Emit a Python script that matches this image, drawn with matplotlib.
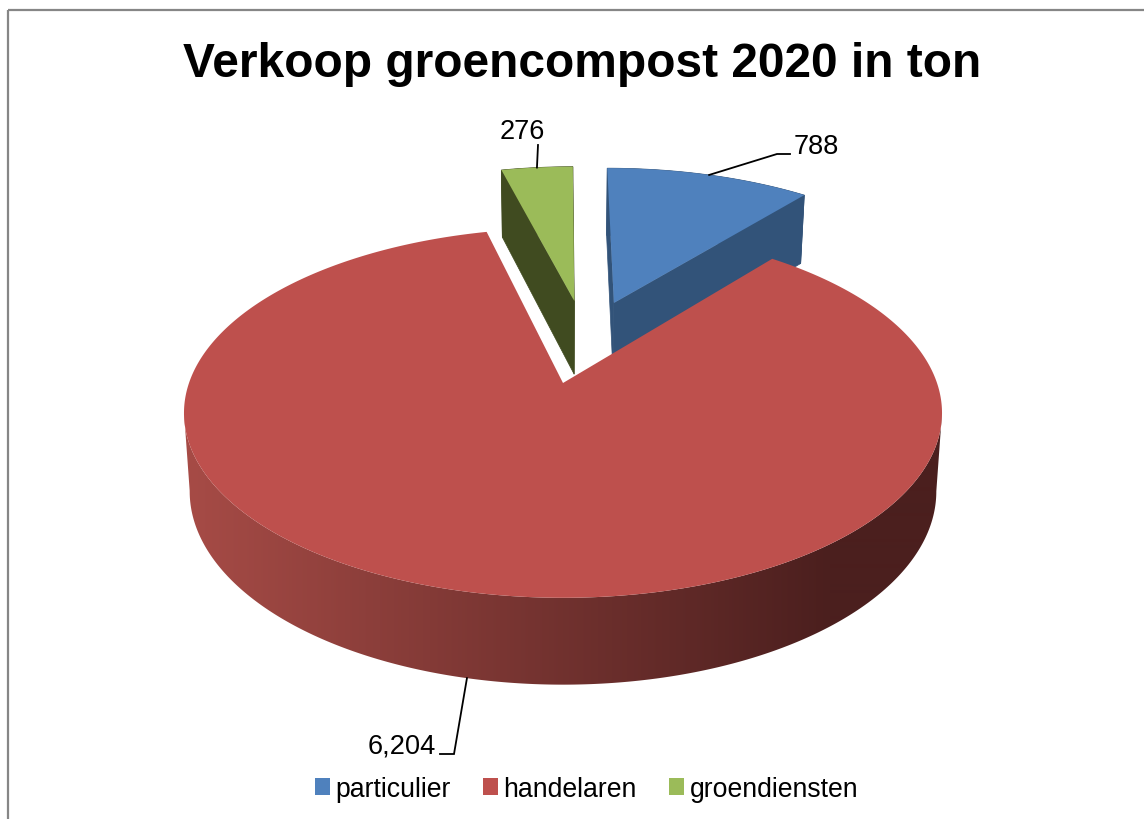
# -*- coding: UTF-8 -*-
# Verkoop groencompost 2020, exploded 3D pie drawn with a small perspective model
import numpy as np
import matplotlib
matplotlib.use('Agg')
import matplotlib.pyplot as plt
from matplotlib.patches import Patch, Polygon, Rectangle
from matplotlib.colors import to_rgb

plt.rcParams['font.family'] = ['Liberation Sans', 'DejaVu Sans']

# Data
categories = ['particulier', 'handelaren', 'groendiensten']
values = [788, 6204, 276]
colors_top = ['#4F81BD', '#BE504D', '#9BBB59']
colors_side = ['#325379', '#4B1F1E', '#404B20']
label_pos = [(816, 147), (402, 747), (522, 132)]
label_elbow = [[(777, 155), (790, 155)], [(454, 755), (440, 755)], [(538, 146)]]

# Perspective model, frame centred on the apex of the largest wedge
center_x = 563
center_y = 384
scale_x = 374
scale_y = 180
persp = 0.162
depth_base = 26
depth_persp = 51
shrink = 0.985  # Bottom face is a bit narrower than the top face
explode_x = 0.265
explode_y = 0.25
nudge_u = [0, 0, 0.006]  # Small sideways correction per wedge

def project(u, v, bottom=False):
    w = 1 + persp * v
    x = center_x + scale_x * u / w
    y = center_y - scale_y * v / w
    if bottom:
        x = center_x + (x - center_x) * shrink
        y = y + depth_base + depth_persp / w
    return x, y

fig = plt.figure(figsize=(11.44, 8.2), dpi=100)
ax = fig.add_axes([0, 0, 1, 1])
ax.set_xlim(0, 1144)
ax.set_ylim(820, 0)
ax.axis('off')

# Chart frame runs off the picture on the right and bottom
ax.add_patch(Rectangle((8, 10.5), 1300, 1000, fill=False, edgecolor='#868686', linewidth=1.6))

# Left to right shading of the big wedge side
xs = np.arange(0, 1144)
t = np.clip((xs - 190) / (830 - 190), 0, 1)[None, :, None]
gradient = (1 - t) * np.array(to_rgb('#A64B46')) + t * np.array(to_rgb('#4B1F1E'))

# Wedge angles clockwise from 12 o'clock
total = sum(values)
angles = np.cumsum([0] + values) / total * 2 * np.pi
red_mid = (angles[1] + angles[2]) / 2
red_off = np.array([np.sin(red_mid) * explode_x, np.cos(red_mid) * explode_y])

# Far wedges first so the big one covers them
for z, i in enumerate([2, 0, 1]):
    mid = (angles[i] + angles[i + 1]) / 2
    off = np.array([np.sin(mid) * explode_x + nudge_u[i], np.cos(mid) * explode_y]) - red_off
    theta = np.linspace(angles[i], angles[i + 1], 720)
    u = off[0] + np.sin(theta)
    v = off[1] + np.cos(theta)
    apex_top = project(off[0], off[1])
    apex_bot = project(off[0], off[1], True)
    xt, yt = project(u, v)
    xb, yb = project(u, v, True)
    if i == 1:
        # Only the near rim shows, from the right extreme round to the left one
        a, b = np.argmax(xt), np.argmin(xt)
        rim = Polygon(np.c_[np.r_[xt[a:b + 1], xb[a:b + 1][::-1]], np.r_[yt[a:b + 1], yb[a:b + 1][::-1]]],
                      closed=True, transform=ax.transData, facecolor='none', edgecolor='none')
        ax.add_patch(rim)
        img = ax.imshow(gradient, extent=(0, 1144, 820, 0), aspect='auto', zorder=2 + z, interpolation='bilinear')
        img.set_clip_path(rim)
    else:
        for k in (0, -1):
            ax.fill([apex_top[0], xt[k], xb[k], apex_bot[0]], [apex_top[1], yt[k], yb[k], apex_bot[1]],
                    color=colors_side[i], linewidth=0.5, zorder=2 + z)
        ax.fill(np.r_[xt, xb[::-1]], np.r_[yt, yb[::-1]], color=colors_side[i], linewidth=0.5, zorder=2 + z)
    # Top face
    ax.fill(np.r_[apex_top[0], xt], np.r_[apex_top[1], yt], color=colors_top[i], linewidth=0, zorder=2.5 + z)
    # Leader line and value label
    lx, ly = project(off[0] + np.sin(mid), off[1] + np.cos(mid), bottom=(i == 1))
    pts = [(lx, ly)] + label_elbow[i]
    ax.plot([p[0] for p in pts], [p[1] for p in pts], color='black', linewidth=1.3, zorder=8,
            solid_joinstyle='miter')
    ax.text(label_pos[i][0], label_pos[i][1], f'{values[i]:,}', fontsize=19.6, ha='center', va='center', zorder=9)

ax.set_xlim(0, 1144)
ax.set_ylim(820, 0)

ax.text(582.5, 64.5, 'Verkoop groencompost 2020 in ton', fontsize=34.5, fontweight='bold', ha='center', va='center')

handles = [Patch(facecolor=c, edgecolor='none', label=n) for c, n in zip(colors_top, categories)]
ax.legend(handles=handles, ncol=3, loc='center', bbox_to_anchor=(586.5 / 1144, 1 - 790 / 820), frameon=False,
          fontsize=19.2, handlelength=0.56, handleheight=0.56, handletextpad=0.22, columnspacing=1.2,
          borderpad=0, borderaxespad=0)

fig.savefig('out.png', dpi=100)
